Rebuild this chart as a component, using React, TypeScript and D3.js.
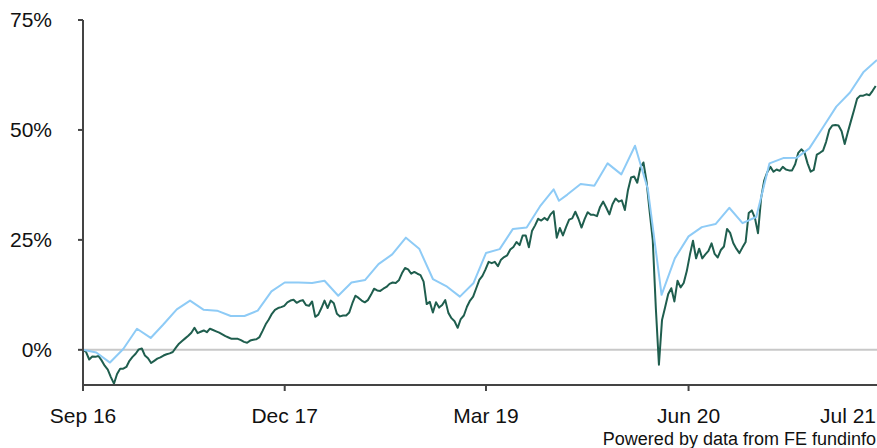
import React from "react";
import { scaleLinear, scaleTime, line, timeParse, timeDay, timeFormat } from "d3";

// monthly benchmark points (light blue)
const blueDates = [
  "2016-09-01", "2016-10-01", "2016-11-01", "2016-12-01", "2017-01-01", "2017-02-01",
  "2017-03-01", "2017-04-01", "2017-05-01", "2017-06-01", "2017-07-01", "2017-08-01",
  "2017-09-01", "2017-10-01", "2017-11-01", "2017-12-01", "2018-01-01", "2018-02-01",
  "2018-03-01", "2018-04-01", "2018-05-01", "2018-06-01", "2018-07-01", "2018-08-01",
  "2018-09-01", "2018-10-01", "2018-11-01", "2018-12-01", "2019-01-01", "2019-02-01",
  "2019-03-01", "2019-04-01", "2019-05-01", "2019-06-01", "2019-07-01", "2019-08-01",
  "2019-08-13", "2019-09-01", "2019-10-01", "2019-11-01", "2019-12-01", "2020-01-01",
  "2020-02-01", "2020-03-01", "2020-04-01", "2020-05-01", "2020-06-01", "2020-07-01",
  "2020-08-01", "2020-09-01", "2020-10-01", "2020-11-01", "2020-12-01", "2021-01-01",
  "2021-02-01", "2021-03-01", "2021-04-01", "2021-05-01", "2021-06-01", "2021-07-01",
  "2021-08-01",
];
const blueValues = [
  0, -0.6, -2.9, 0.2, 4.8, 2.7,
  5.7, 9.2, 11.2, 9.1, 8.9, 7.7,
  7.7, 8.9, 13.3, 15.3, 15.3, 15.2,
  15.7, 12.3, 15.3, 15.9, 19.5, 21.7,
  25.5, 23.0, 16.1, 14.5, 12.1, 15.2,
  22.0, 22.9, 27.5, 27.8, 32.6, 36.5,
  33.9, 35.3, 37.7, 37.3, 42.4, 39.9,
  46.4, 36.5, 12.5, 20.8, 25.8, 27.9,
  28.6, 32.3, 28.8, 30.2, 42.4, 43.6,
  43.7, 45.8, 50.6, 55.3, 58.5, 63.1,
  65.9,
];

// weekly fund values (dark green), first week starts greenStart
const greenStart = "2016-09-01";
const greenValues = [
  0, -0.5, -2.2, -1.5, -1.6, -1.4, -2.4, -3.6, -4.5, -6.2,
  -7.7, -5.5, -4.3, -4.3, -3.9, -2.5, -1.6, -0.9, 0.1, 0.3,
  -1.3, -1.9, -3.0, -2.5, -2.0, -1.7, -1.3, -1.0, -0.8, -0.5,
  0.5, 1.4, 2.0, 2.6, 3.2, 3.9, 5.0, 3.8, 4.1, 4.4,
  4.0, 4.8, 4.5, 4.2, 3.9, 3.5, 3.1, 2.8, 2.5, 2.5,
  2.5, 2.2, 1.8, 1.6, 2.1, 2.3, 2.4, 2.9, 4.3, 5.8,
  6.9, 8.2, 9.1, 9.5, 9.7, 10.0, 10.8, 11.2, 11.4, 10.7,
  11.1, 11.3, 10.2, 10.0, 11.0, 7.5, 8.0, 9.5, 11.2, 9.5,
  11.2, 10.6, 8.2, 7.6, 7.8, 7.8, 8.5, 10.6, 12.3, 11.8,
  11.2, 10.8, 11.3, 12.5, 13.9, 13.5, 13.4, 13.9, 14.3, 15.0,
  15.3, 15.2, 15.8, 17.4, 18.6, 18.3, 17.3, 17.7, 17.3, 17.0,
  15.5, 10.4, 10.9, 8.5, 10.8, 9.6, 10.2, 11.3, 8.4, 7.2,
  6.5, 5.0, 7.0, 7.8, 9.8, 11.2, 12.1, 14.0, 15.9, 16.8,
  18.3, 20.0, 19.7, 20.0, 19.0, 20.5, 21.1, 21.5, 22.8, 23.4,
  24.5, 23.8, 26.0, 26.0, 23.3, 27.0, 28.3, 29.8, 29.4, 30.0,
  29.5, 30.8, 31.5, 25.5, 27.7, 26.0, 27.9, 29.6, 29.9, 31.4,
  29.8, 27.8, 29.7, 31.3, 30.7, 30.7, 30.4, 32.5, 33.7, 32.3,
  30.8, 33.1, 34.4, 33.7, 34.0, 31.8, 36.3, 39.2, 39.4, 38.0,
  41.4, 42.6, 38.3, 31.5, 25.0, 9.5, -3.4, 6.8, 9.7, 12.7,
  14.0, 11.0, 15.7, 14.2, 15.2, 17.9, 21.6, 24.8, 20.8, 23.0,
  20.8, 21.7, 22.5, 24.2, 21.8, 21.0, 22.7, 23.5, 27.5, 26.6,
  24.3, 23.0, 22.0, 23.3, 24.5, 31.1, 31.7, 30.0, 26.5, 34.5,
  38.5, 40.4, 41.6, 40.5, 41.0, 40.7, 41.6, 41.0, 40.8, 40.8,
  42.2, 44.8, 45.6, 44.9, 42.4, 40.5, 40.9, 44.4, 44.8, 45.3,
  47.3, 50.0, 51.0, 51.1, 51.0, 49.7, 46.8, 49.5, 52.0, 54.5,
  57.1, 57.8, 57.8, 58.1, 57.9, 58.9, 60.0,
];

const xTickDates = ["2016-09-01", "2017-12-01", "2019-03-01", "2020-06-01"];
const xEndLabel = "2021-07-01";
const yTicks = [0, 25, 50, 75];
const domainStart = "2016-09-01";
const domainEnd = "2021-08-01";

const parse = timeParse("%Y-%m-%d");
const fmt = timeFormat("%b %y");
const FONT = "Arial, 'Liberation Sans', Helvetica, sans-serif";

const App: React.FC = () => {
  const width = 877;
  const height = 448;
  const marginLeft = 83;
  const marginRight = 0;
  const marginTop = 20;
  const marginBottom = 63;

  const x = scaleTime()
    .domain([parse(domainStart)!, parse(domainEnd)!])
    .range([marginLeft, width - marginRight]);

  const y = scaleLinear()
    .domain([-8, 75])
    .range([height - marginBottom, marginTop]);

  const blueData = blueDates.map((d, i) => ({ date: parse(d)!, value: blueValues[i] }));
  const start = parse(greenStart)!;
  const greenData = greenValues.map((v, i) => ({ date: timeDay.offset(start, i * 7), value: v }));

  const path = line<{ date: Date; value: number }>()
    .x((d) => x(d.date))
    .y((d) => y(d.value));

  const axisColor = "#444";
  const bottom = height - marginBottom;

  return (
    <svg
      width={width}
      height={height}
      style={{ position: "absolute", left: 0, top: 0, display: "block", background: "#fff" }}
    >
      {/* zero line */}
      <line x1={marginLeft} x2={width} y1={y(0)} y2={y(0)} stroke="#c8c8c8" strokeWidth={2} />

      <path d={path(greenData) ?? ""} fill="none" stroke="#1f5e4e" strokeWidth={2} strokeLinejoin="round" />
      <path d={path(blueData) ?? ""} fill="none" stroke="#8ecbf6" strokeWidth={2} strokeLinejoin="round" />

      {/* y axis */}
      <line x1={marginLeft} x2={marginLeft} y1={y(75)} y2={bottom} stroke={axisColor} strokeWidth={2} />
      {yTicks.map((t) => (
        <g key={t} transform={`translate(0,${y(t)})`}>
          <line x1={marginLeft - 5} x2={marginLeft} stroke={axisColor} strokeWidth={2} />
          <text
            x={52}
            dy="0.35em"
            textAnchor="end"
            fontFamily={FONT}
            fontSize={21}
            fill="#111"
          >
            {t}%
          </text>
        </g>
      ))}

      {/* x axis */}
      <line x1={marginLeft - 1} x2={width} y1={bottom} y2={bottom} stroke={axisColor} strokeWidth={2} />
      {xTickDates.map((d) => {
        const px = x(parse(d)!);
        return (
          <g key={d} transform={`translate(${px},${bottom})`}>
            <line y1={0} y2={6} stroke={axisColor} strokeWidth={2} />
            <text y={38} textAnchor="middle" fontFamily={FONT} fontSize={21} fill="#111">
              {fmt(parse(d)!)}
            </text>
          </g>
        );
      })}
      <text x={width - 1} y={bottom + 38} textAnchor="end" fontFamily={FONT} fontSize={21} fill="#111">
        {fmt(parse(xEndLabel)!)}
      </text>

      <text x={width - 1} y={445} textAnchor="end" fontFamily={FONT} fontSize={18} fill="#111">
        Powered by data from FE fundinfo
      </text>
    </svg>
  );
};

export default App;
